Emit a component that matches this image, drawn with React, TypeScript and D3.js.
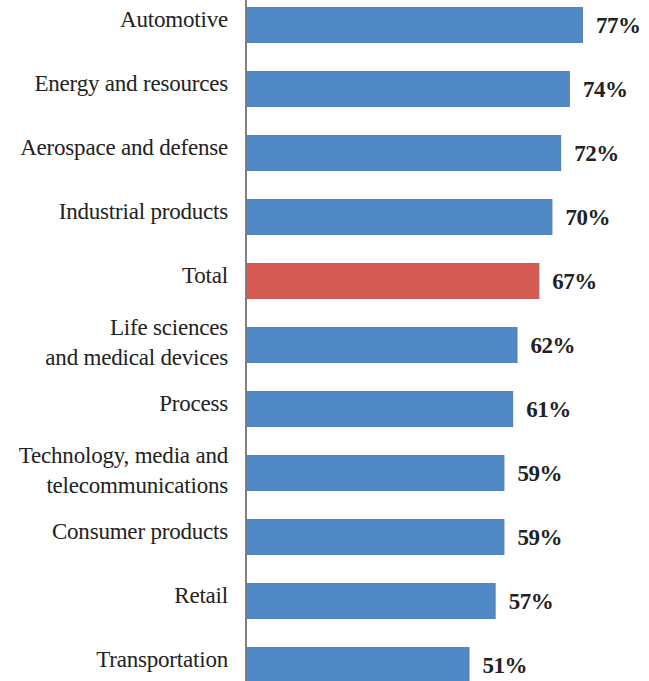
import React from "react";
import * as d3 from "d3";

const categories: string[][] = [
  ["Automotive"],
  ["Energy and resources"],
  ["Aerospace and defense"],
  ["Industrial products"],
  ["Total"],
  ["Life sciences", "and medical devices"],
  ["Process"],
  ["Technology, media and", "telecommunications"],
  ["Consumer products"],
  ["Retail"],
  ["Transportation"],
];
const values: number[] = [77, 74, 72, 70, 67, 62, 61, 59, 59, 57, 51];
const highlight = "Total";

const W = 649;
const H = 681;

export default function App() {
  const keys = categories.map((c) => c.join(" "));
  const x = d3.scaleLinear().domain([0, 77]).range([247, 583]);
  const y = d3
    .scaleBand<string>()
    .domain(keys)
    .range([-7, 697])
    .paddingInner(0.4375)
    .paddingOuter(0.21875);
  const font = "'Liberation Serif', 'DejaVu Serif', serif";
  return (
    <svg
      width={W}
      height={H}
      style={{ position: "absolute", left: 0, top: 0, background: "#fff" }}
    >
      {keys.map((k, i) => {
        const y0 = y(k)!;
        const bh = y.bandwidth();
        const cy = y0 + bh / 2;
        const lines = categories[i];
        return (
          <g key={k}>
            <rect
              x={x(0)}
              y={y0}
              width={x(values[i]) - x(0)}
              height={bh}
              fill={k === highlight ? "#D75B55" : "#5189C6"}
            />
            <text
              x={x(values[i]) + 13}
              y={cy + 8}
              fontFamily={font}
              fontWeight="bold"
              fontSize={23}
              letterSpacing={-0.5}
              fill="#222"
            >
              {values[i]}%
            </text>
            {lines.length === 1 ? (
              <text
                x={228}
                y={cy + 2}
                textAnchor="end"
                fontFamily={font}
                fontSize={23}
                fill="#222"
                letterSpacing={-0.2}
              >
                {lines[0]}
              </text>
            ) : (
              lines.map((l, j) => (
                <text
                  key={j}
                  x={228}
                  y={cy - 10 + j * 30}
                  textAnchor="end"
                  fontFamily={font}
                  fontSize={23}
                  fill="#222"
                  letterSpacing={-0.2}
                >
                  {l}
                </text>
              ))
            )}
          </g>
        );
      })}
      <line x1={246} x2={246} y1={0} y2={H} stroke="#7f7f7f" strokeWidth={2} />
    </svg>
  );
}
